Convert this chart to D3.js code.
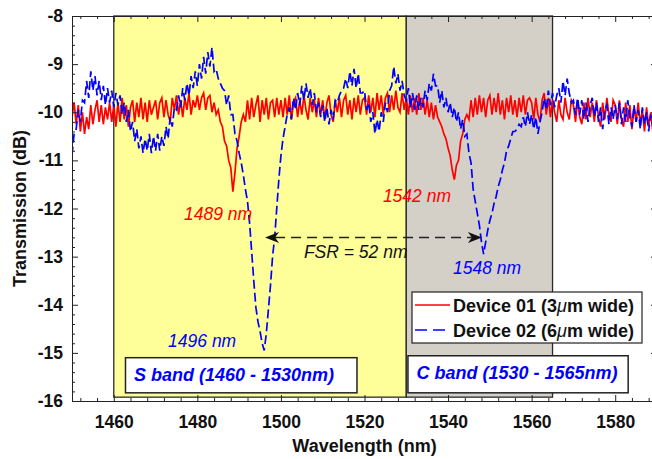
<!DOCTYPE html>
<html>
<head>
<meta charset="utf-8">
<script src="https://cdn.jsdelivr.net/npm/d3@7"></script>
<style>
  html, body { margin: 0; padding: 0; background: #fff; }
  svg { display: block; font-family: "Liberation Sans", Arial, sans-serif; }
  .axis path, .axis line { stroke: #222; stroke-width: 1; }
  .axis text { font-size: 17.5px; font-weight: bold; fill: #111; }
</style>
</head>
<body>
<svg id="chart" width="652" height="459"></svg>
<script>
"use strict";

// wavelength grid of the measured traces (nm)
var lambda_start = 1450,
  lambda_step = 0.5;

// Device 01 (3um wide), transmission (dB), one sample every 0.5 nm from 1450 to 1590
var device01 = [
  -10.1, -9.8, -10.25, -9.85, -10.4, -10.0, -10.45, -10.1, -10.35, -9.85, -10.25, -9.95, -9.75, -10.2, -9.85, -10.25, -9.9, -10.15, -9.8, -10.2,
  -9.85, -10.3, -9.8, -10.2, -9.7, -10.15, -9.85, -10.3, -9.9, -9.75, -10.2, -9.8, -10.1, -9.7, -10.15, -9.8, -10.2, -9.75, -10.05, -9.9,
  -9.75, -10.15, -9.8, -9.7, -10.1, -9.75, -10.05, -10.2, -9.7, -9.95, -9.65, -10.05, -9.75, -10.1, -9.7, -9.95, -9.6, -10.05, -9.75, -9.9,
  -9.65, -9.95, -9.7, -9.6, -9.95, -9.7, -9.65, -10.0, -9.8, -10.05, -9.95, -10.2, -10.3, -10.6, -10.7, -11.0, -11.15, -11.65, -11.25, -10.75,
  -10.5, -10.2, -10.05, -10.2, -9.75, -10.15, -9.7, -10.1, -9.85, -9.65, -10.2, -9.75, -10.05, -9.7, -10.15, -9.8, -9.75, -10.1, -9.7, -10.05,
  -9.75, -10.1, -9.7, -10.05, -9.65, -10.15, -9.8, -9.7, -10.1, -9.75, -10.05, -9.65, -9.95, -10.15, -9.7, -10.0, -9.75, -10.1, -9.7, -10.05,
  -9.75, -10.15, -9.8, -9.65, -10.05, -10.2, -9.75, -10.0, -9.7, -10.1, -9.75, -9.65, -10.05, -9.75, -10.15, -9.7, -10.0, -9.65, -10.05, -9.75,
  -9.7, -10.05, -9.65, -10.0, -9.7, -10.1, -9.6, -9.95, -9.65, -10.05, -9.7, -9.6, -10.0, -9.65, -9.95, -9.55, -9.9, -10.0, -9.6, -9.95,
  -9.7, -10.05, -9.65, -10.0, -9.7, -10.05, -9.6, -9.95, -9.7, -10.05, -9.75, -10.1, -9.8, -10.15, -9.85, -10.1, -10.2, -10.3, -10.45, -10.55,
  -10.75, -10.9, -11.2, -11.4, -11.1, -11.0, -10.6, -10.45, -10.15, -10.05, -10.15, -9.75, -10.1, -9.7, -10.05, -9.65, -10.0, -9.7, -10.1, -9.75,
  -9.65, -10.05, -9.7, -10.0, -9.6, -10.05, -9.75, -10.15, -9.7, -10.0, -9.65, -10.05, -9.75, -10.1, -9.7, -10.0, -9.65, -10.05, -9.75, -9.7,
  -9.8, -10.15, -9.7, -10.05, -10.2, -9.75, -9.6, -10.05, -9.7, -10.1, -9.75, -10.0, -10.2, -9.75, -10.05, -10.15, -9.7, -10.0, -10.15, -9.75,
  -9.85, -10.2, -9.75, -10.1, -10.25, -9.8, -10.15, -9.7, -10.1, -9.8, -10.2, -9.75, -10.1, -10.3, -9.8, -10.15, -9.7, -10.05, -10.2, -9.75,
  -9.85, -10.25, -9.75, -10.15, -10.3, -9.8, -10.2, -9.85, -10.35, -9.9, -10.2, -9.8, -10.25, -9.95, -10.4, -9.9, -10.3, -10.0, -10.4, -10.05, -10.3
];

// Device 02 (6um wide), same grid
var device02 = [
  -10.9, -10.45, -10.35, -9.95, -10.2, -9.75, -9.8, -9.35, -9.7, -9.15, -9.55, -9.25, -9.65, -9.35, -9.75, -9.45, -9.85, -9.5, -9.8, -9.55,
  -9.9, -9.6, -9.85, -9.65, -10.05, -9.8, -10.2, -9.95, -10.4, -10.2, -10.6, -10.35, -10.75, -10.5, -10.85, -10.55, -10.8, -10.45, -10.85, -10.5,
  -10.8, -10.45, -10.8, -10.5, -10.7, -10.3, -10.55, -10.1, -10.3, -9.9, -9.95, -9.65, -9.9, -9.5, -9.75, -9.4, -9.65, -9.25, -9.5, -9.15,
  -9.45, -9.0, -9.3, -8.85, -9.2, -8.75, -9.05, -8.65, -9.15, -9.1, -9.3, -9.4, -9.5, -9.55, -9.85, -9.65, -10.05, -10.05, -10.45, -10.6,
  -10.85, -11.05, -11.3, -11.6, -11.85, -12.3, -12.9, -13.5, -14.05, -14.35, -14.55, -14.8, -14.95, -14.6, -14.1, -13.6, -13.0, -12.6, -12.0, -11.4,
  -10.9, -10.55, -10.3, -10.05, -9.9, -10.15, -9.7, -9.95, -9.6, -9.85, -9.45, -9.75, -9.4, -9.7, -9.5, -9.85, -9.6, -10.0, -9.8, -10.1,
  -9.85, -10.2, -9.9, -10.25, -9.95, -10.15, -9.75, -9.8, -9.65, -9.55, -9.5, -9.3, -9.5, -9.15, -9.45, -9.1, -9.5, -9.2, -9.6, -9.6,
  -9.55, -9.95, -9.8, -10.2, -10.0, -10.45, -10.15, -10.4, -10.0, -10.2, -9.8, -10.0, -9.55, -9.45, -9.05, -9.4, -9.2, -9.55, -9.35, -9.65,
  -9.75, -9.5, -9.9, -9.6, -9.95, -9.65, -9.95, -9.7, -9.9, -9.55, -9.75, -9.4, -9.55, -9.2, -9.45, -9.45, -9.8, -9.55, -9.9, -9.7,
  -10.0, -9.8, -10.1, -9.9, -10.2, -10.0, -10.35, -10.15, -10.5, -10.45, -10.85, -11.05, -11.6, -11.85, -12.1, -12.35, -12.7, -12.95, -12.7, -12.45,
  -12.25, -12.1, -11.9, -11.75, -11.55, -11.4, -11.2, -11.05, -10.8, -10.7, -10.55, -10.4, -10.4, -10.35, -10.25, -10.3, -10.1, -10.3, -10.0, -10.25,
  -10.05, -10.35, -10.1, -10.45, -10.2, -10.0, -9.7, -9.95, -9.55, -9.85, -9.6, -9.9, -9.65, -9.5, -9.8, -9.35, -9.65, -9.3, -9.6, -9.8,
  -9.75, -10.05, -9.7, -10.05, -9.75, -10.15, -9.8, -10.2, -9.85, -9.7, -10.1, -9.8, -10.2, -9.9, -10.35, -9.95, -9.85, -10.25, -9.9, -10.15,
  -9.85, -10.15, -9.8, -10.25, -9.9, -10.2, -9.75, -10.1, -10.3, -9.85, -10.2, -9.95, -10.35, -9.9, -10.25, -10.0, -10.4, -10.05, -10.3, -10.45, -10.1
];

var x_ticks = [1460, 1480, 1500, 1520, 1540, 1560, 1580];
var y_ticks = [-16, -15, -14, -13, -12, -11, -10, -9, -8];

// telecom bands shaded behind the traces
var band_names = ["S band (1460 - 1530nm)", "C band (1530 - 1565nm)"];
var band_start = [1460, 1530];
var band_end = [1530, 1565];

// resonance dips and free spectral range
var dip_labels = ["1489 nm", "1542 nm", "1548 nm", "1496 nm"];
var fsr_from = 1496.2,
  fsr_to = 1548.1,
  fsr_label = "FSR = 52 nm";

var series_names = ["Device 01 (3", "Device 02 (6"];

var svg = d3.select("#chart");

var plot_left = 72,
  plot_right = 657,
  plot_top = 16,
  plot_bottom = 401;

var x = d3.scaleLinear().domain([1450, 1590]).range([plot_left, plot_right]);
var y = d3.scaleLinear().domain([-16, -8]).range([plot_bottom, plot_top]);

function wavelength(i) {
  return lambda_start + i * lambda_step;
}

svg.append("clipPath")
  .attr("id", "plot_clip")
  .append("rect")
  .attr("x", plot_left)
  .attr("y", plot_top)
  .attr("width", plot_right - plot_left)
  .attr("height", plot_bottom - plot_top);

// shaded bands
var band_fill = ["#ffff99", "#d4d0c8"];
svg.selectAll(".band")
  .data(band_start)
  .enter()
  .append("rect")
  .attr("class", "band")
  .attr("x", function (d) { return x(d); })
  .attr("y", y(-8))
  .attr("width", function (d, i) { return x(band_end[i]) - x(d); })
  .attr("height", y(-15.92) - y(-8))
  .attr("fill", function (d, i) { return band_fill[i]; })
  .attr("stroke", "#2a2a2a")
  .attr("stroke-width", 1.3);

// traces
var line = d3.line()
  .x(function (d, i) { return x(wavelength(i)); })
  .y(function (d) { return y(d); });

var traces = svg.append("g").attr("clip-path", "url(#plot_clip)");

traces.append("path")
  .datum(device01)
  .attr("d", line)
  .attr("fill", "none")
  .attr("stroke", "#ff0000")
  .attr("stroke-width", 1.7);

traces.append("path")
  .datum(device02)
  .attr("d", line)
  .attr("fill", "none")
  .attr("stroke", "#0000ff")
  .attr("stroke-width", 1.7)
  .attr("stroke-dasharray", "9,4");

// axes, ticks pointing inward on all four sides
function drawAxis(axis, transform) {
  return svg.append("g")
    .attr("class", "axis")
    .attr("transform", transform)
    .call(axis);
}

var x_minor = d3.range(1452, 1590, 4).filter(function (d) { return x_ticks.indexOf(d) < 0; });
var y_minor = d3.range(1, 40).map(function (i) { return Math.round((-16 + i * 0.2) * 10) / 10; })
  .filter(function (d) { return y_ticks.indexOf(d) < 0; });

drawAxis(d3.axisBottom(x).tickValues(x_ticks).tickSize(-6).tickSizeOuter(0).tickPadding(15).tickFormat(String),
  "translate(0," + plot_bottom + ")");
drawAxis(d3.axisBottom(x).tickValues(x_minor).tickSize(-3).tickSizeOuter(0).tickFormat(""),
  "translate(0," + plot_bottom + ")");
drawAxis(d3.axisTop(x).tickValues(x_ticks).tickSize(-6).tickSizeOuter(0).tickFormat(""),
  "translate(0," + plot_top + ")");
drawAxis(d3.axisTop(x).tickValues(x_minor).tickSize(-3).tickSizeOuter(0).tickFormat(""),
  "translate(0," + plot_top + ")");
drawAxis(d3.axisLeft(y).tickValues(y_ticks).tickSize(-6).tickSizeOuter(0).tickPadding(9).tickFormat(String),
  "translate(" + plot_left + ",0)");
drawAxis(d3.axisLeft(y).tickValues(y_minor).tickSize(-3).tickSizeOuter(0).tickFormat(""),
  "translate(" + plot_left + ",0)");
drawAxis(d3.axisRight(y).tickValues(y_ticks).tickSize(-6).tickSizeOuter(0).tickFormat(""),
  "translate(" + plot_right + ",0)");
drawAxis(d3.axisRight(y).tickValues(y_minor).tickSize(-3).tickSizeOuter(0).tickFormat(""),
  "translate(" + plot_right + ",0)");

// axis titles
svg.append("text")
  .attr("x", (plot_left + plot_right) / 2)
  .attr("y", 452)
  .attr("text-anchor", "middle")
  .attr("font-size", "18px")
  .attr("font-weight", "bold")
  .attr("fill", "#111")
  .text("Wavelength (nm)");

svg.append("text")
  .attr("transform", "translate(26," + (plot_top + plot_bottom) / 2 + ") rotate(-90)")
  .attr("text-anchor", "middle")
  .attr("font-size", "18px")
  .attr("font-weight", "bold")
  .attr("fill", "#111")
  .text("Transmission (dB)");

// band label boxes
var band_box_from = [1462.8, 1530.4],
  band_box_to = [1518.2, 1583.1],
  band_box_top = [-15.1, -15.06];

var band_label = svg.selectAll(".band_label")
  .data(band_names)
  .enter()
  .append("g")
  .attr("class", "band_label");

band_label.append("rect")
  .attr("x", function (d, i) { return x(band_box_from[i]); })
  .attr("y", function (d, i) { return y(band_box_top[i]); })
  .attr("width", function (d, i) { return x(band_box_to[i]) - x(band_box_from[i]); })
  .attr("height", function (d, i) { return y(-15.83) - y(band_box_top[i]); })
  .attr("fill", "#fff")
  .attr("stroke", "#222")
  .attr("stroke-width", 1.5);

band_label.append("text")
  .attr("x", function (d, i) { return x(band_box_from[i]) + 8.5; })
  .attr("y", function (d, i) { return y(band_box_top[i]) + 23; })
  .attr("font-size", "18px")
  .attr("font-weight", "bold")
  .attr("font-style", "italic")
  .attr("fill", "#0000ff")
  .text(function (d) { return d; });

// dip annotations
var dip_at = [[1476.8, -12.24], [1524.4, -11.87], [1541.2, -13.36], [1473.0, -14.88]],
  dip_color = ["#ff0000", "#ff0000", "#0000ff", "#0000ff"];

svg.selectAll(".dip_label")
  .data(dip_labels)
  .enter()
  .append("text")
  .attr("class", "dip_label")
  .attr("x", function (d, i) { return x(dip_at[i][0]); })
  .attr("y", function (d, i) { return y(dip_at[i][1]); })
  .attr("font-size", "17.5px")
  .attr("font-style", "italic")
  .attr("fill", function (d, i) { return dip_color[i]; })
  .text(function (d) { return d; });

// FSR double arrow
var arrow_y = y(-12.6);
svg.append("line")
  .attr("x1", x(fsr_from) + 10)
  .attr("x2", x(fsr_to) - 10)
  .attr("y1", arrow_y)
  .attr("y2", arrow_y)
  .attr("stroke", "#222")
  .attr("stroke-width", 1.5)
  .attr("stroke-dasharray", "10,6");

svg.append("path")
  .attr("d", "M0,0L14,-5.5L10,0L14,5.5Z")
  .attr("transform", "translate(" + x(fsr_from) + "," + arrow_y + ")")
  .attr("fill", "#111");
svg.append("path")
  .attr("d", "M0,0L-14,-5.5L-10,0L-14,5.5Z")
  .attr("transform", "translate(" + x(fsr_to) + "," + arrow_y + ")")
  .attr("fill", "#111");

svg.append("text")
  .attr("x", x(1505.5))
  .attr("y", y(-13.03))
  .attr("font-size", "17.5px")
  .attr("font-style", "italic")
  .attr("fill", "#111")
  .text(fsr_label);

// legend
var legend = svg.append("g").attr("transform", "translate(412,292)");

legend.append("rect")
  .attr("width", 230)
  .attr("height", 51)
  .attr("fill", "#fff")
  .attr("stroke", "#222")
  .attr("stroke-width", 1.2);

var legend_color = ["#ff0000", "#0000ff"],
  legend_dash = [null, "12,6"];

var entry = legend.selectAll(".entry")
  .data(series_names)
  .enter()
  .append("g")
  .attr("class", "entry")
  .attr("transform", function (d, i) { return "translate(0," + (13 + i * 25) + ")"; });

entry.append("line")
  .attr("x1", 3)
  .attr("x2", 38)
  .attr("stroke", function (d, i) { return legend_color[i]; })
  .attr("stroke-width", 1.6)
  .attr("stroke-dasharray", function (d, i) { return legend_dash[i]; });

var entry_text = entry.append("text")
  .attr("x", 41)
  .attr("y", 6.5)
  .attr("font-size", "18px")
  .attr("font-weight", "bold")
  .attr("fill", "#111");

entry_text.append("tspan").text(function (d) { return d; });
entry_text.append("tspan").attr("font-style", "italic").attr("font-weight", "normal").text("\u03bc");
entry_text.append("tspan").text("m wide)");
</script>
</body>
</html>
